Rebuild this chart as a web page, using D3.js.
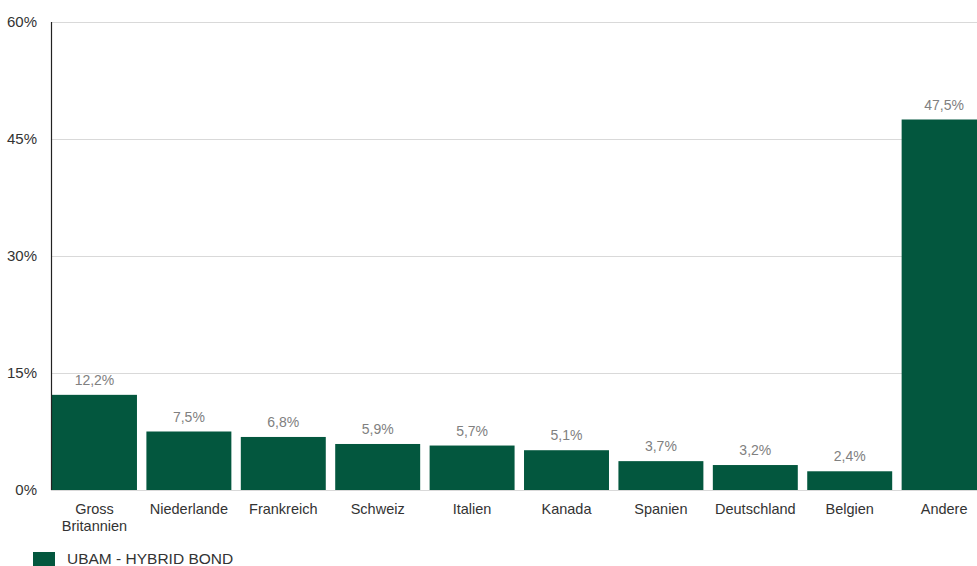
<!DOCTYPE html>
<html><head><meta charset="utf-8">
<script src="https://cdn.jsdelivr.net/npm/d3@7/dist/d3.min.js"></script>
<style>body{margin:0;background:#fff;overflow:hidden}text{font-family:"Liberation Sans",Arial,sans-serif}</style>
</head><body><svg id="c" width="977" height="566"></svg>
<script>
const categories = ["Gross Britannien","Niederlande","Frankreich","Schweiz","Italien","Kanada","Spanien","Deutschland","Belgien","Andere"];
const values = [12.2,7.5,6.8,5.9,5.7,5.1,3.7,3.2,2.4,47.5];
const yTicks = [0,15,30,45,60];
const seriesName = "UBAM - HYBRID BOND";

const svg = d3.select("#c");
const x = d3.scaleBand().domain(categories).range([52, 986.6]).paddingInner(0.1).paddingOuter(0).align(0);
const y = d3.scaleLinear().domain([0,60]).range([490,22]);
const color = "#03573e";

// gridlines
svg.append("g").selectAll("line").data(yTicks).join("line")
  .attr("x1",51).attr("x2",977).attr("y1",d=>Math.round(y(d))+0.5).attr("y2",d=>Math.round(y(d))+0.5)
  .attr("stroke","#d9d9d9").attr("stroke-width",1);

// y labels
svg.append("g").selectAll("text").data(yTicks).join("text")
  .attr("x",37).attr("y",d=>y(d)+5).attr("text-anchor","end")
  .attr("font-size",15).attr("fill","#333").text(d=>d+"%");

// bars
svg.append("g").selectAll("rect").data(values).join("rect")
  .attr("x",(d,i)=>x(categories[i])).attr("width",x.bandwidth())
  .attr("y",d=>y(d)).attr("height",d=>y(0)-y(d)).attr("fill",color);

// value labels
svg.append("g").selectAll("text").data(values).join("text")
  .attr("x",(d,i)=>x(categories[i])+x.bandwidth()/2).attr("y",d=>y(d)-10)
  .attr("text-anchor","middle").attr("font-size",14).attr("fill","#808080")
  .text(d=>d.toFixed(1).replace(".",",")+"%");

// y axis line
svg.append("line").attr("x1",51.5).attr("x2",51.5).attr("y1",22).attr("y2",490)
  .attr("stroke","#222").attr("stroke-width",1.2);

// x labels
const xl = svg.append("g").selectAll("text").data(categories).join("text")
  .attr("x",d=>x(d)+x.bandwidth()/2).attr("y",514)
  .attr("text-anchor","middle").attr("font-size",14.5).attr("fill","#333");
xl.each(function(d){
  const parts = d==="Gross Britannien" ? ["Gross","Britannien"] : [d];
  const t = d3.select(this);
  parts.forEach((p,i)=>t.append("tspan").attr("x",x(d)+x.bandwidth()/2).attr("dy",i?17:0).text(p));
});

// legend
svg.append("rect").attr("x",33).attr("y",552).attr("width",22).attr("height",14).attr("fill",color);
svg.append("text").attr("x",67).attr("y",564).attr("font-size",15.5).attr("fill","#333").text(seriesName);
</script></body></html>
